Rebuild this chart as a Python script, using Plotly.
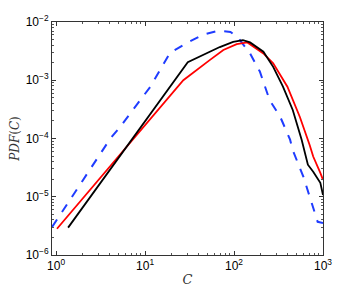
import numpy as np
import plotly.graph_objects as go

# log10 coordinates
black_logc = [0.135, 1.48, 1.84, 1.99, 2.10, 2.18, 2.33, 2.44, 2.55, 2.66, 2.76, 2.83, 2.89, 2.97, 3.0]
black_logp = [-5.53, -2.69, -2.43, -2.34, -2.31, -2.35, -2.51, -2.77, -3.11, -3.51, -4.02, -4.45, -4.57, -4.76, -4.97]

red_logc = [0.01, 1.28, 1.43, 1.73, 1.88, 2.03, 2.15, 2.33, 2.44, 2.60, 2.74, 2.85, 2.89, 2.97, 3.0]
red_logp = [-5.55, -3.28, -3.0, -2.65, -2.48, -2.38, -2.35, -2.54, -2.71, -3.11, -3.63, -4.11, -4.31, -4.59, -4.71]

blue_logc = [-0.045, 0.61, 0.72, 1.06, 1.28, 1.47, 1.65, 1.82, 1.96, 2.05, 2.18, 2.29, 2.40, 2.52, 2.63, 2.66, 2.78, 2.89, 2.94, 3.0]
blue_logp = [-5.52, -4.0, -3.8, -3.11, -2.53, -2.36, -2.22, -2.15, -2.17, -2.28, -2.54, -2.85, -3.34, -3.63, -4.02, -4.2, -4.66, -5.17, -5.43, -5.45]

xtick_vals = [1, 10, 100, 1000]
xtick_text = ["10<sup>0</sup>", "10<sup>1</sup>", "10<sup>2</sup>", "10<sup>3</sup>"]
ytick_vals = [1e-6, 1e-5, 1e-4, 1e-3, 1e-2]
ytick_text = ["10<sup>−6</sup>", "10<sup>−5</sup>", "10<sup>−4</sup>", "10<sup>−3</sup>", "10<sup>−2</sup>"]

def p(v):
    return [10 ** a for a in v]

fig = go.Figure()
fig.add_trace(go.Scatter(x=p(blue_logc), y=p(blue_logp), mode="lines",
                         line=dict(color="#1f3cff", width=2, dash="dash")))
fig.add_trace(go.Scatter(x=p(red_logc), y=p(red_logp), mode="lines",
                         line=dict(color="#ff0000", width=1.8)))
fig.add_trace(go.Scatter(x=p(black_logc), y=p(black_logp), mode="lines",
                         line=dict(color="#000000", width=1.8)))

axis_common = dict(showline=True, linecolor="#333", linewidth=1, mirror="allticks",
                   ticks="inside", ticklen=4, tickcolor="#333", showgrid=False, zeroline=False,
                   automargin=False,
                   tickfont=dict(family="Liberation Sans, Arial", size=12, color="black"),
                   minor=dict(ticks="inside", ticklen=2, tickcolor="#555", dtick="D1", showgrid=False))

fig.update_xaxes(type="log", range=[-0.046, 3], tickvals=xtick_vals, ticktext=xtick_text,
                 title=dict(text="<i>C</i>", font=dict(family="DejaVu Serif", size=13, color="#333"), standoff=2),
                 **axis_common)
fig.update_yaxes(type="log", range=[-6, -2], tickvals=ytick_vals, ticktext=ytick_text,
                 title=dict(text="<i>PDF</i>(<i>C</i>)", font=dict(family="DejaVu Serif", size=12, color="#333"), standoff=4),
                 **axis_common)

# page body has an 8px margin; margins compensate so the plot box lands where the reference's does
fig.update_layout(width=357, height=287, margin=dict(l=44, r=42, t=14, b=40),
                  plot_bgcolor="white", paper_bgcolor="white", showlegend=False)

fig.write_html("out.html")
